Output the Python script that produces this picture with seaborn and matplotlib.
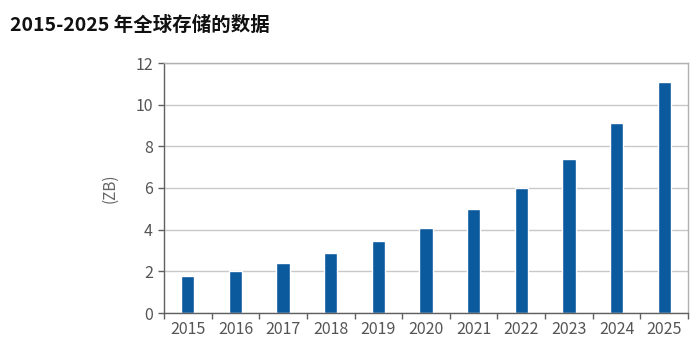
import matplotlib
matplotlib.use("Agg")
import matplotlib.pyplot as plt
import seaborn as sns
import pandas as pd
from matplotlib.ticker import FixedLocator

years = ["2015", "2016", "2017", "2018", "2019", "2020", "2021", "2022", "2023", "2024", "2025"]
values = [1.78, 2.03, 2.38, 2.86, 3.47, 4.10, 4.98, 6.00, 7.39, 9.10, 11.10]
yticks = [0, 2, 4, 6, 8, 10, 12]
title = "2015-2025 年全球存储的数据"
ylabel = "(ZB)"

sns.set_theme(style="white")
plt.rcParams['font.family'] = ['Noto Sans CJK SC', 'DejaVu Sans']

df = pd.DataFrame({"year": years, "value": values})

fig = plt.figure(figsize=(7.0, 3.56), dpi=100)
ax = fig.add_axes([164/700, 1 - 313/356, (688-164)/700, (313-63)/356])

sns.barplot(data=df, x="year", y="value", color="#0B5A9E", saturation=1,
            width=0.28, ax=ax)

ax.set_ylim(0, 12)
ax.set_xlim(-0.5, len(years) - 0.5)
ax.set_yticks(yticks)
ax.set_yticklabels([str(t) for t in yticks])
ax.yaxis.grid(True, color="#c8c8c8", linewidth=1)
ax.set_axisbelow(True)

for s in ax.spines.values():
    s.set_visible(True)
    s.set_color("#b0b0b0")
    s.set_linewidth(1)
ax.spines["left"].set_color("#606060")
ax.spines["bottom"].set_color("#606060")

ax.tick_params(axis="y", which="major", left=True, length=4, width=1, color="#606060",
               labelsize=11.5, labelcolor="#555555", pad=4)
ax.tick_params(axis="x", which="major", bottom=False, length=0, labelsize=11.5,
               labelcolor="#555555", pad=6)
ax.xaxis.set_minor_locator(FixedLocator([i - 0.5 for i in range(len(years) + 1)]))
ax.tick_params(axis="x", which="minor", bottom=True, length=4, width=1, color="#606060")

ax.set_xlabel("")
ax.set_ylabel(ylabel, fontsize=11, color="#666666", labelpad=12)

fig.text(10/700, 1 - 25/356, title, fontsize=14, fontweight="bold", color="#111111",
         va="center", ha="left")

fig.savefig("out.png", dpi=100)
